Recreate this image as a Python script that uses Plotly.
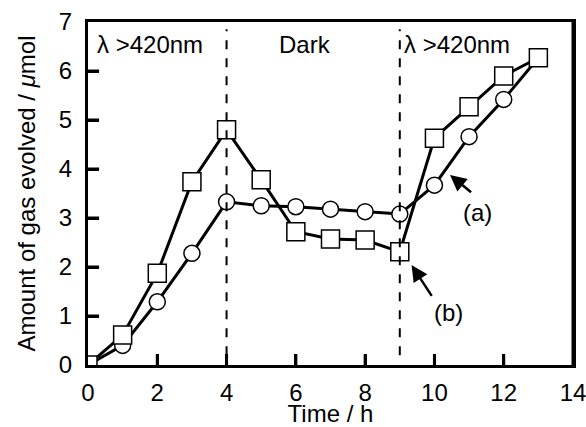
import plotly.graph_objects as go

time_h = [0, 1, 2, 3, 4, 5, 6, 7, 8, 9, 10, 11, 12, 13]
series_a = [0, 0.40, 1.29, 2.28, 3.33, 3.25, 3.23, 3.18, 3.13, 3.08, 3.67, 4.66, 5.42, 6.27]
series_b = [0, 0.61, 1.87, 3.74, 4.80, 3.78, 2.72, 2.57, 2.55, 2.31, 4.63, 5.27, 5.90, 6.27]
x_ticks = [0, 2, 4, 6, 8, 10, 12, 14]
y_ticks = [0, 1, 2, 3, 4, 5, 6, 7]
x_range = [0, 14]
y_range = [0, 7]
region_bounds = [4, 9]

FONT = "Liberation Sans, Arial, sans-serif"
TICK_X_LEN = 0.22   # in y units (~11 px)
TICK_Y_LEN = 0.32   # in x units (~11 px)

fig = go.Figure()
fig.add_trace(go.Scatter(
    x=time_h, y=series_a, mode="lines+markers", name="(a)",
    line=dict(color="black", width=3),
    marker=dict(symbol="circle", size=16, color="white", line=dict(color="black", width=1.5)),
))
fig.add_trace(go.Scatter(
    x=time_h, y=series_b, mode="lines+markers", name="(b)",
    line=dict(color="black", width=3),
    marker=dict(symbol="square", size=18, color="white", line=dict(color="black", width=1.5)),
))

for xb in region_bounds:
    fig.add_shape(type="line", x0=xb, x1=xb, y0=0.2, y1=6.85, xref="x", yref="y",
                  line=dict(color="black", width=2, dash="dash"), layer="above")

# frame (right edge) and inside tick marks
fig.add_shape(type="line", x0=x_range[1], x1=x_range[1], y0=y_range[0], y1=y_range[1],
              xref="x", yref="y", line=dict(color="black", width=3), layer="above")
for xt in x_ticks[1:-1]:
    fig.add_shape(type="line", x0=xt, x1=xt, y0=y_range[0], y1=y_range[0] + TICK_X_LEN,
                  xref="x", yref="y", line=dict(color="black", width=3), layer="above")
for yt in y_ticks[1:-1]:
    fig.add_shape(type="line", x0=x_range[0], x1=x_range[0] + TICK_Y_LEN, y0=yt, y1=yt,
                  xref="x", yref="y", line=dict(color="black", width=3), layer="above")

ann_font = dict(family=FONT, size=24, color="black")
fig.add_annotation(x=0.2, y=6.55, text="λ >420nm", showarrow=False, xanchor="left", yanchor="middle", font=ann_font)
fig.add_annotation(x=6.27, y=6.55, text="Dark", showarrow=False, xanchor="center", yanchor="middle", font=ann_font)
fig.add_annotation(x=9.05, y=6.55, text="λ >420nm", showarrow=False, xanchor="left", yanchor="middle", font=ann_font)

fig.add_annotation(x=10.45, y=3.88, ax=11.1, ay=3.5, axref="x", ayref="y", xref="x", yref="y",
                   text="", showarrow=True, arrowhead=2, arrowsize=1.3, arrowwidth=2.5, arrowcolor="black")
fig.add_annotation(x=11.25, y=3.12, text="(a)", showarrow=False, font=ann_font)
fig.add_annotation(x=9.34, y=2.04, ax=9.95, ay=1.38, axref="x", ayref="y", xref="x", yref="y",
                   text="", showarrow=True, arrowhead=2, arrowsize=1.3, arrowwidth=2.5, arrowcolor="black")
fig.add_annotation(x=10.4, y=1.08, text="(b)", showarrow=False, font=ann_font)

axis_common = dict(
    showgrid=False, zeroline=False, showline=True, linecolor="black", linewidth=3,
    mirror=True, ticks="inside", ticklen=11, tickwidth=3, tickcolor="black",
    tickfont=dict(family=FONT, size=24, color="black"), automargin=False,
    ticklabeloverflow="allow",
)
fig.update_xaxes(range=x_range, tickvals=x_ticks, ticklabelstandoff=4,
                 title=dict(text="Time / h", font=dict(family=FONT, size=24, color="black"), standoff=13),
                 **axis_common)
fig.update_yaxes(range=y_range, tickvals=y_ticks, ticklabelstandoff=8,
                 title=dict(text="Amount of gas evolved / <i>μ</i>mol", font=dict(family=FONT, size=24, color="black"), standoff=17),
                 **axis_common)

fig.update_layout(
    width=586, height=427, showlegend=False,
    margin=dict(l=88, r=13, t=22, b=62),
    plot_bgcolor="white", paper_bgcolor="white",
)
fig.write_html("out.html", config={"displayModeBar": False},
               post_script="document.body.style.margin='0';document.body.style.overflow='hidden';")
